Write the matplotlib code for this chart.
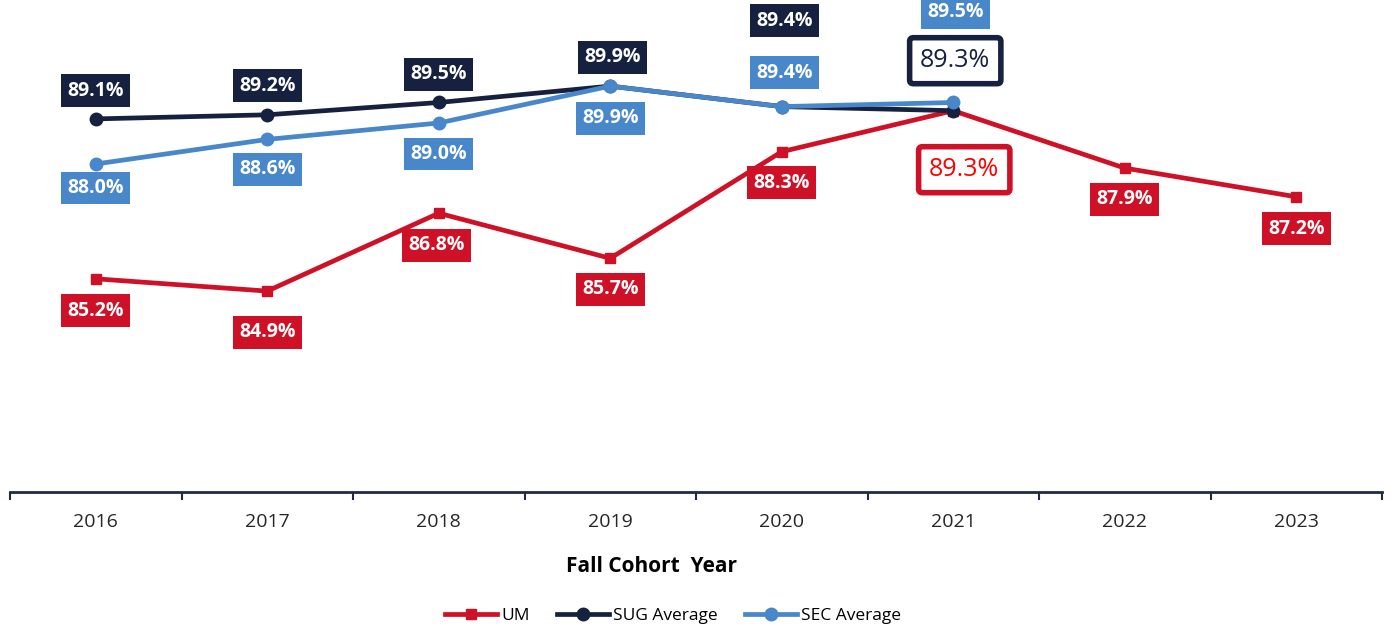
import matplotlib.pyplot as plt
import numpy as np

plt.rcParams['font.family'] = ['Open Sans', 'DejaVu Sans']

years = ['2016', '2017', '2018', '2019', '2020', '2021', '2022', '2023']
um = [85.2, 84.9, 86.8, 85.7, 88.3, 89.3, 87.9, 87.2]
sug = [89.1, 89.2, 89.5, 89.9, 89.4, 89.3]
sec = [88.0, 88.6, 89.0, 89.9, 89.4, 89.5]

red = '#CE1126'
navy = '#16213F'
blue = '#4787CA'

# label offsets in pixels (dx, dy downward), tuned by eye
um_off = [(0, 32), (0, 41), (-2, 32), (0, 31), (0, 31), (11, 59), (0, 31), (0, 32)]
sug_off = [(0, -28), (0, -29), (0, -28), (2, -29), (3, -86), (2, -50)]
sec_off = [(0, 24), (0, 30), (0, 31), (0, 32), (3, -34), (2, -90)]

fig = plt.figure(figsize=(13.91, 6.31), dpi=100)
ax = fig.add_axes([10 / 1391, 1 - 492 / 631, 1372 / 1391, 492 / 631])

x = np.arange(len(years))
ax.plot(x, um, color=red, lw=3.4, marker='s', ms=7.5, zorder=3, label='UM')
ax.plot(x[:len(sug)], sug, color=navy, lw=3.4, marker='o', ms=9, zorder=4, label='SUG Average')
ax.plot(x[:len(sec)], sec, color=blue, lw=3.4, marker='o', ms=9, zorder=5, label='SEC Average')

def label(xi, v, off, color, big=False, txtcolor=None):
    dx, dy = off
    if big:
        bbox = dict(boxstyle='round,pad=0.42,rounding_size=0.15', fc='white', ec=color, lw=4)
        ax.annotate(f'{v:.1f}%', (xi, v), xytext=(dx * 0.72, -dy * 0.72),
                    textcoords='offset points', ha='center', va='center',
                    fontsize=18, color=txtcolor or color, bbox=bbox,
                    annotation_clip=False, zorder=10)
    else:
        bbox = dict(boxstyle='square,pad=0.33', fc=color, ec='none')
        ax.annotate(f'{v:.1f}%', (xi, v), xytext=(dx * 0.72, -dy * 0.72),
                    textcoords='offset points', ha='center', va='center',
                    fontsize=14, fontweight='bold', color='white', bbox=bbox,
                    annotation_clip=False, zorder=10)

for i, v in enumerate(um):
    label(i, v, um_off[i], red, big=(i == 5), txtcolor='#FF0000')
for i, v in enumerate(sug):
    label(i, v, sug_off[i], navy, big=(i == 5))
for i, v in enumerate(sec):
    label(i, v, sec_off[i], blue)

ax.set_xlim(-0.5, len(years) - 0.5)
ax.set_ylim(80, 92)
ax.set_yticks([])
for s in ['top', 'right', 'left']:
    ax.spines[s].set_visible(False)
ax.spines['bottom'].set_color('#1F2A44')
ax.spines['bottom'].set_linewidth(2)

ax.set_xticks(x)
ax.set_xticklabels(years, fontsize=14, color='#262626')
ax.tick_params(axis='x', which='major', length=0, pad=15)
ax.set_xticks(np.arange(-0.5, len(years)), minor=True)
ax.tick_params(axis='x', which='minor', length=6, width=1.5, color='#1F2A44', direction='out')

fig.text(651 / 1391, 1 - 566 / 631, 'Fall Cohort  Year', ha='center', va='center',
         fontsize=15, fontweight='bold', color='black')

fig.legend(loc='center', bbox_to_anchor=(673 / 1391, 15 / 631), ncol=3, frameon=False,
           fontsize=12.5, handlelength=3.0, handletextpad=0.2, columnspacing=1.6)

fig.savefig('out.png', dpi=100)
